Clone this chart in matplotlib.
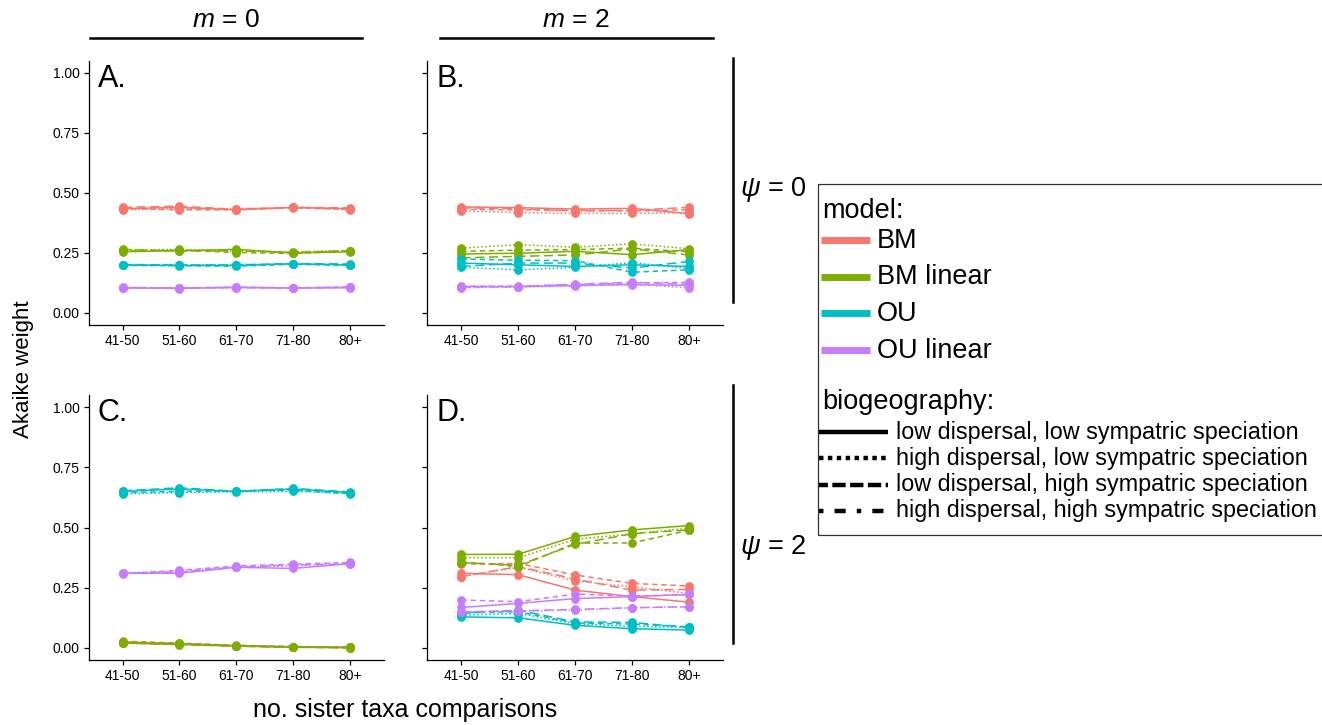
import matplotlib
matplotlib.use("Agg")
import matplotlib.pyplot as plt
from matplotlib.lines import Line2D
from matplotlib.patches import Rectangle

plt.rcParams["font.family"] = ["Liberation Sans", "DejaVu Sans"]
plt.rcParams["mathtext.fontset"] = "custom"
plt.rcParams["mathtext.it"] = "Liberation Sans:italic"
plt.rcParams["mathtext.rm"] = "Liberation Sans"

W, H = 1322, 725

# categories / legend entries
groups = ["41-50", "51-60", "61-70", "71-80", "80+"]
models = ["BM", "BM linear", "OU", "OU linear"]
model_colors = ["#F8766D", "#7CAE00", "#00BFC4", "#C77CFF"]
biogeo = ["low dispersal, low sympatric speciation",
          "high dispersal, low sympatric speciation",
          "low dispersal, high sympatric speciation",
          "high dispersal, high sympatric speciation"]
biogeo_ls = ["-", (0, (1, 1.6)), (0, (3.5, 2.5)), (0, (6, 3))]

# Akaike weights per panel: model -> [one list per biogeography scenario]
panel_A = {
    "BM": [[0.435, 0.440, 0.430, 0.440, 0.435],
           [0.430, 0.435, 0.435, 0.440, 0.430],
           [0.435, 0.430, 0.430, 0.438, 0.432],
           [0.440, 0.445, 0.432, 0.440, 0.438]],
    "BM linear": [[0.255, 0.260, 0.265, 0.250, 0.255],
                  [0.262, 0.265, 0.258, 0.255, 0.260],
                  [0.258, 0.262, 0.252, 0.248, 0.258],
                  [0.265, 0.258, 0.260, 0.252, 0.260]],
    "OU": [[0.200, 0.198, 0.198, 0.205, 0.200],
           [0.200, 0.200, 0.202, 0.204, 0.202],
           [0.198, 0.197, 0.195, 0.203, 0.198],
           [0.202, 0.200, 0.200, 0.206, 0.204]],
    "OU linear": [[0.105, 0.103, 0.107, 0.104, 0.105],
                  [0.103, 0.102, 0.105, 0.103, 0.110],
                  [0.107, 0.104, 0.108, 0.105, 0.108],
                  [0.104, 0.105, 0.106, 0.104, 0.107]],
}

panel_B = {
    "BM": [[0.442, 0.439, 0.433, 0.436, 0.414],
           [0.425, 0.418, 0.415, 0.415, 0.418],
           [0.432, 0.430, 0.428, 0.425, 0.430],
           [0.438, 0.435, 0.425, 0.428, 0.440]],
    "BM linear": [[0.246, 0.249, 0.257, 0.243, 0.264],
                  [0.270, 0.285, 0.274, 0.288, 0.268],
                  [0.257, 0.262, 0.264, 0.270, 0.255],
                  [0.230, 0.236, 0.242, 0.267, 0.242]],
    "OU": [[0.208, 0.201, 0.194, 0.201, 0.194],
           [0.190, 0.180, 0.190, 0.210, 0.185],
           [0.225, 0.220, 0.218, 0.170, 0.180],
           [0.194, 0.208, 0.208, 0.187, 0.215]],
    "OU linear": [[0.110, 0.110, 0.115, 0.118, 0.115],
                  [0.105, 0.108, 0.112, 0.120, 0.105],
                  [0.112, 0.112, 0.118, 0.125, 0.128],
                  [0.108, 0.110, 0.120, 0.128, 0.120]],
}

panel_C = {
    "BM": [[0.025, 0.018, 0.010, 0.005, 0.003],
           [0.022, 0.016, 0.008, 0.004, 0.002],
           [0.028, 0.020, 0.011, 0.006, 0.003],
           [0.024, 0.017, 0.009, 0.004, 0.002]],
    "BM linear": [[0.020, 0.015, 0.008, 0.003, 0.001],
                  [0.022, 0.017, 0.009, 0.004, 0.002],
                  [0.026, 0.019, 0.010, 0.005, 0.002],
                  [0.021, 0.014, 0.007, 0.003, 0.001]],
    "OU": [[0.650, 0.660, 0.650, 0.660, 0.645],
           [0.640, 0.645, 0.648, 0.650, 0.642],
           [0.645, 0.650, 0.652, 0.655, 0.640],
           [0.652, 0.665, 0.650, 0.662, 0.648]],
    "OU linear": [[0.310, 0.310, 0.335, 0.330, 0.350],
                  [0.312, 0.318, 0.338, 0.340, 0.352],
                  [0.308, 0.322, 0.340, 0.348, 0.355],
                  [0.310, 0.315, 0.335, 0.345, 0.348]],
}

panel_D = {
    "BM": [[0.310, 0.304, 0.240, 0.213, 0.190],
           [0.296, 0.335, 0.278, 0.254, 0.226],
           [0.347, 0.351, 0.303, 0.268, 0.257],
           [0.296, 0.338, 0.286, 0.240, 0.243]],
    "BM linear": [[0.388, 0.389, 0.463, 0.490, 0.508],
                  [0.375, 0.374, 0.451, 0.474, 0.497],
                  [0.358, 0.338, 0.435, 0.436, 0.488],
                  [0.354, 0.343, 0.430, 0.474, 0.490]],
    "OU": [[0.129, 0.125, 0.094, 0.080, 0.074],
           [0.136, 0.143, 0.101, 0.090, 0.085],
           [0.147, 0.150, 0.104, 0.099, 0.088],
           [0.143, 0.157, 0.108, 0.106, 0.085]],
    "OU linear": [[0.168, 0.185, 0.205, 0.213, 0.222],
                  [0.150, 0.153, 0.157, 0.167, 0.171],
                  [0.199, 0.192, 0.224, 0.215, 0.222],
                  [0.150, 0.154, 0.160, 0.167, 0.171]],
}

y_ticks = [0.0, 0.25, 0.5, 0.75, 1.0]
y_ticklabels = ["0.00", "0.25", "0.50", "0.75", "1.00"]


def px(x0, y0, x1, y1):
    return [x0 / W, 1 - y1 / H, (x1 - x0) / W, (y1 - y0) / H]


fig = plt.figure(figsize=(W / 100, H / 100), dpi=100)

panels = [
    (panel_A, "A.", px(88.6, 61, 384, 325), True),
    (panel_B, "B.", px(427.3, 61, 723, 325), False),
    (panel_C, "C.", px(88.6, 395, 384, 660), True),
    (panel_D, "D.", px(427.3, 395, 723, 660), False),
]

xs = list(range(1, len(groups) + 1))
for data, letter, rect, show_y in panels:
    ax = fig.add_axes(rect)
    for model, color in zip(models, model_colors):
        for vals, ls in zip(data[model], biogeo_ls):
            ax.plot(xs, vals, color=color, ls=ls, lw=1.1,
                    marker="o", ms=6.3, mew=0)
    ax.set_xlim(0.4, 5.6)
    ax.set_ylim(-0.05, 1.05)
    ax.set_xticks(xs)
    ax.set_xticklabels(groups)
    ax.set_yticks(y_ticks)
    ax.set_yticklabels(y_ticklabels if show_y else [])
    for s in ["top", "right"]:
        ax.spines[s].set_visible(False)
    for s in ["left", "bottom"]:
        ax.spines[s].set_linewidth(0.9)
    ax.tick_params(length=3.5, width=0.9, labelsize=10, pad=3)
    ax.text(0.03, 0.99, letter, transform=ax.transAxes, fontsize=22,
            va="top", ha="left")

# column headers and row strips
fig.add_artist(Line2D([90 / W, 362 / W], [1 - 38 / H] * 2, color="black", lw=1.8))
fig.add_artist(Line2D([440 / W, 713 / W], [1 - 38 / H] * 2, color="black", lw=1.8))
fig.text(226 / W, 1 - 20 / H, "$m$ = 0", fontsize=19, ha="center", va="center")
fig.text(576 / W, 1 - 20 / H, "$m$ = 2", fontsize=19, ha="center", va="center")
fig.add_artist(Line2D([733 / W] * 2, [1 - 58 / H, 1 - 302 / H], color="black", lw=1.8))
fig.add_artist(Line2D([733 / W] * 2, [1 - 385 / H, 1 - 643 / H], color="black", lw=1.8))
fig.text(740 / W, 1 - 189 / H, r"$\psi$ = 0", fontsize=19.5, ha="left", va="center")
fig.text(740 / W, 1 - 548 / H, r"$\psi$ = 2", fontsize=19.5, ha="left", va="center")

fig.text(24 / W, 1 - 369 / H, "Akaike weight", fontsize=16, rotation=90,
         ha="center", va="center")
fig.text(405 / W, 1 - 710 / H, "no. sister taxa comparisons", fontsize=18,
         ha="center", va="center")

# legend panel, drawn in pixel coordinates
lg = fig.add_axes(px(817, 183, 1322, 535))
lg.set_xlim(817, 1322)
lg.set_ylim(535, 183)
lg.axis("off")
lg.add_patch(Rectangle((817.5, 183.5), 520, 351, fill=False, ec="#333333",
                       lw=0.9, clip_on=False))
lg.text(822, 211, "model:", fontsize=19.5, va="center", ha="left")
for i, (model, color) in enumerate(zip(models, model_colors)):
    y = 240 + i * 36.5
    lg.plot([821, 870], [y, y], color=color, lw=5, solid_capstyle="butt")
    lg.text(877, y + 1, model, fontsize=19.5, va="center", ha="left")
lg.text(822, 402, "biogeography:", fontsize=19.5, va="center", ha="left")
key_ls = ["-", (0, (1, 1)), (1, (3, 1)), (0, (1, 2.5, 2.5, 2.5))]
for i, (name, ls) in enumerate(zip(biogeo, key_ls)):
    y = 432 + i * 26.3
    lg.plot([819, 888], [y, y], color="black", lw=3.2, ls=ls,
            dash_capstyle="butt", solid_capstyle="butt")
    lg.text(896, y, name, fontsize=16.8, va="center", ha="left")

fig.savefig("out.png", dpi=100)
